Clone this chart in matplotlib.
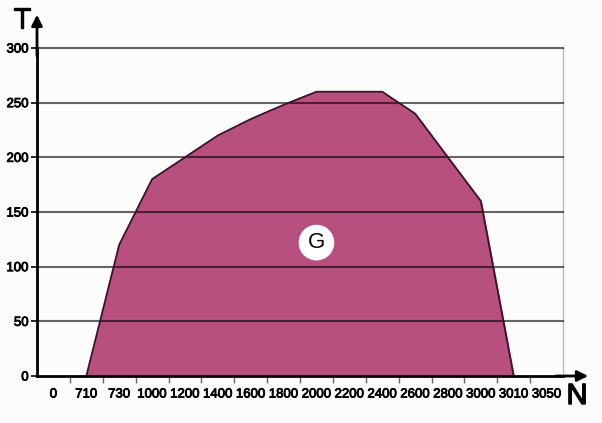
import matplotlib.pyplot as plt
import matplotlib.patheffects as pe
import numpy as np

plt.rcParams['font.family'] = ['Liberation Sans', 'DejaVu Sans']

n_labels = ['0', '710', '730', '1000', '1200', '1400', '1600', '1800', '2000',
            '2200', '2400', '2600', '2800', '3000', '3010', '3050']
# T value at each N category (nan = outside area G)
t_vals = [np.nan, 0, 120, 180, 200, 220, 235, 248, 260, 260, 260, 240, 200, 160, 0, np.nan]
y_ticks = [0, 50, 100, 150, 200, 250, 300]

thick = [pe.withStroke(linewidth=0.6, foreground='black')]

fig = plt.figure(figsize=(6.02, 4.23), dpi=100)
fig.patch.set_facecolor('#fcfcfc')
ax = fig.add_axes([37 / 602, 1 - 376 / 423, 526 / 602, 328 / 423])
ax.set_facecolor('#fcfcfc')

x = np.arange(len(n_labels))
t = np.array(t_vals, dtype=float)
m = ~np.isnan(t)

ax.fill_between(x[m], 0, t[m], color='#b8507f', zorder=2)
ax.plot(x[m], t[m], color='#3a1426', lw=1.3, zorder=4)

# horizontal grid lines over the area
for yv in y_ticks[1:]:
    ax.axhline(yv, color='black', alpha=0.6, lw=1.5, zorder=3, clip_on=False)

ax.set_xlim(-0.5, len(n_labels) - 0.5)
ax.set_ylim(0, 300)

ax.set_xticks(x)
ax.set_xticklabels(n_labels, fontsize=9.5)
ax.set_xticks(x[:-1] + 0.5, minor=True)
ax.tick_params(axis='x', which='major', length=0, pad=9)
ax.tick_params(axis='x', which='minor', length=5, width=1, color='#666666', direction='out')
ax.set_yticks(y_ticks)
ax.set_yticklabels([str(v) for v in y_ticks], fontsize=9.5)
ax.tick_params(axis='y', length=4, width=1.2, color='black', pad=2)
for lab in ax.get_xticklabels() + ax.get_yticklabels():
    lab.set_path_effects(thick)

ax.spines['top'].set_visible(False)
ax.spines['right'].set_color('#bbbbbb')
ax.spines['right'].set_linewidth(1)
ax.spines['left'].set_linewidth(2)
ax.spines['bottom'].set_linewidth(2)
ax.spines['left'].set_zorder(5)
ax.spines['bottom'].set_zorder(5)

# axis arrows
ax.annotate('', xy=(-0.5, 333), xytext=(-0.5, 290),
            arrowprops=dict(arrowstyle='-|>', color='black', lw=2, mutation_scale=16),
            annotation_clip=False)
ax.annotate('', xy=(16.35, 0), xytext=(15.2, 0),
            arrowprops=dict(arrowstyle='-|>', color='black', lw=2, mutation_scale=16),
            annotation_clip=False)

fig.text(22 / 602, 1 - 20 / 423, 'T', fontsize=21, ha='center', va='center',
         path_effects=[pe.withStroke(linewidth=1, foreground='black')])
fig.text(577 / 602, 1 - 396 / 423, 'N', fontsize=21, ha='center', va='center',
         path_effects=[pe.withStroke(linewidth=1, foreground='black')])

ax.text(8.0, 122, 'G', fontsize=16, ha='center', va='center', zorder=6,
        bbox=dict(boxstyle='circle,pad=0.33', fc='white', ec='none'))

fig.savefig('out.png', dpi=100, facecolor=fig.get_facecolor())
